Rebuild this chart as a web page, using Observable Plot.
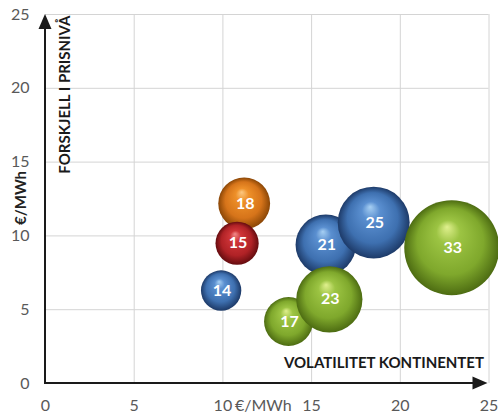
<!DOCTYPE html>
<html><head><meta charset="utf-8">
<script src="https://cdn.jsdelivr.net/npm/d3@7"></script>
<script src="https://cdn.jsdelivr.net/npm/@observablehq/plot@0.6"></script>
<style>body{margin:0;background:#fff}</style>
</head><body><div id="chart"></div>
<script>
// Data (draw order matters for overlaps)
const bubbleLabels = [18, 15, 14, 21, 25, 17, 23, 33];
const volatility   = [11.2, 10.8, 9.9, 15.8, 18.5, 13.7, 16.0, 22.9];
const priceDiff    = [12.2, 9.5, 6.3, 9.4, 10.9, 4.2, 5.7, 9.2];
const colorGroup   = ["orange", "red", "blue", "blue", "blue", "green", "green", "green"];
const xTicks = [0, 5, 10, 15, 20, 25];
const yTicks = [0, 5, 10, 15, 20, 25];
const gridTicks = [5, 10, 15, 20, 25];
const xTitle = "VOLATILITET KONTINENTET";
const yTitle = "FORSKJELL I PRISNIVÅ";
const unit = "€/MWh";

const data = bubbleLabels.map((v, i) => ({value: v, x: volatility[i], y: priceDiff[i], group: colorGroup[i]}));

const palettes = {
  blue:   ["#a6cff3", "#5a8fd0", "#3e70b0", "#1d3a68"],
  green:  ["#e0f08e", "#9cc443", "#7fa82c", "#4d6c12"],
  orange: ["#fcc880", "#ee9029", "#d6741a", "#8a4606"],
  red:    ["#f18a8a", "#cf3538", "#b02226", "#640c0f"]
};

const defs = () => {
  const d = d3.create("svg:defs");
  for (const [name, c] of Object.entries(palettes)) {
    const g = d.append("radialGradient").attr("id", "g-" + name)
      .attr("cx", "50%").attr("cy", "50%").attr("r", "50%")
      .attr("fx", "45%").attr("fy", "28%");
    g.append("stop").attr("offset", "0%").attr("stop-color", c[0]);
    g.append("stop").attr("offset", "25%").attr("stop-color", c[1]);
    g.append("stop").attr("offset", "70%").attr("stop-color", c[2]);
    g.append("stop").attr("offset", "100%").attr("stop-color", c[3]);
  }
  const f = d.append("filter").attr("id", "shadow").attr("x", "-30%").attr("y", "-30%").attr("width", "160%").attr("height", "160%");
  f.append("feDropShadow").attr("dx", 1).attr("dy", 3).attr("stdDeviation", 2.5).attr("flood-color", "#000").attr("flood-opacity", 0.28);
  return d.node();
};

const axesArrows = (index, {x, y}) => {
  const g = d3.create("svg:g");
  const x0 = x(0), y0 = y(0), xt = x(25) - 1, yt = y(25);
  const col = "#1a1a1a";
  g.append("line").attr("x1", x0).attr("y1", y0).attr("x2", x0).attr("y2", yt + 12)
    .attr("stroke", col).attr("stroke-width", 2);
  g.append("polygon").attr("points", `${x0},${yt} ${x0 - 6.5},${yt + 15} ${x0 + 6.5},${yt + 15}`).attr("fill", col);
  g.append("line").attr("x1", x0 - 1).attr("y1", y0).attr("x2", xt - 12).attr("y2", y0)
    .attr("stroke", col).attr("stroke-width", 2);
  g.append("polygon").attr("points", `${xt},${y0} ${xt - 15},${y0 - 6.5} ${xt - 15},${y0 + 6.5}`).attr("fill", col);
  return g.node();
};

const chart = Plot.plot({
  width: 498,
  height: 416,
  marginLeft: 45,
  marginRight: 9.5,
  marginTop: 14,
  marginBottom: 33,
  style: {fontFamily: "Lato, sans-serif", background: "#fff", overflow: "visible"},
  x: {domain: [0, 25], label: null},
  y: {domain: [0, 25], label: null},
  r: {type: "linear", domain: [0, 33], range: [0, 47.5]},
  color: {type: "identity"},
  marks: [
    defs,
    Plot.gridX(gridTicks, {stroke: "#d4d4d4", strokeOpacity: 1, strokeWidth: 1}),
    Plot.gridY(gridTicks, {stroke: "#d4d4d4", strokeOpacity: 1, strokeWidth: 1}),
    Plot.axisX(xTicks, {tickSize: 0, tickPadding: 16, fontSize: 16, color: "#595959", label: null}),
    Plot.axisY(yTicks, {tickSize: 0, tickPadding: 16, fontSize: 16, color: "#595959", label: null}),
    Plot.text([unit], {x: () => 10, frameAnchor: "bottom", textAnchor: "start", lineAnchor: "top", dx: 12, dy: 16, fontSize: 16, fill: "#595959"}),
    Plot.text([unit], {frameAnchor: "left", rotate: -90, textAnchor: "middle", lineAnchor: "middle", dx: -24, dy: -1, fontSize: 15, fontWeight: "bold", fill: "#222"}),
    Plot.text([yTitle], {frameAnchor: "top-left", rotate: -90, textAnchor: "end", lineAnchor: "middle", dx: 20, dy: 1, fontSize: 15, fontWeight: "bold", fill: "#1a1a1a"}),
    Plot.text([xTitle], {frameAnchor: "bottom-right", textAnchor: "end", lineAnchor: "middle", dx: -5, dy: -20, fontSize: 15, fontWeight: "bold", fill: "#1a1a1a"}),
    axesArrows,
    Plot.dot(data, {x: "x", y: "y", r: "value", fill: d => `url(#g-${d.group})`, stroke: "none", sort: null, filter: null, style: "filter:url(#shadow)"}),
    Plot.text(data, {x: "x", y: "y", text: d => String(d.value), fill: "#fff", fontSize: 16, fontWeight: "bold", dx: 1})
  ]
});
document.getElementById("chart").append(chart);
</script>
</body></html>
